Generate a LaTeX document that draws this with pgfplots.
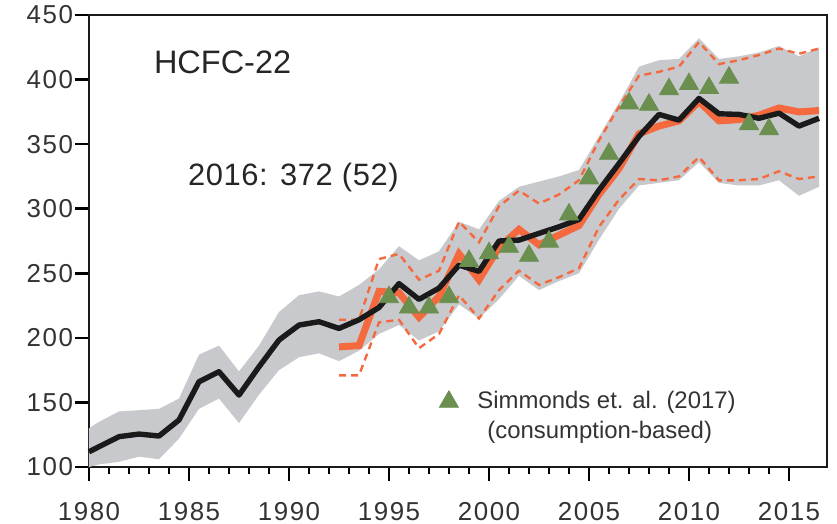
\documentclass[border=0pt]{standalone}
\usepackage{fontspec}
\setmainfont{Liberation Sans}
\newfontfamily\tickfont[LetterSpace=6]{Liberation Sans}
\newfontfamily\notefont[LetterSpace=2]{Liberation Sans}
\usepackage{pgfplots}
\pgfplotsset{compat=1.18}

\definecolor{bandgray}{RGB}{200,201,205}
\definecolor{emorange}{RGB}{245,105,62}
\definecolor{trigreen}{RGB}{106,143,78}
\definecolor{inkblack}{RGB}{26,26,26}

% Global emissions (Gg/yr), plotted at mid-year
\pgfplotstableread{
year  mean
1980   111.8
1980.5 115.7
1981.5 123.5
1982.5 125.5
1983.5 124
1984.5 136.4
1985.5 166
1986.5 173.8
1987.5 155.7
1988.5 177.6
1989.5 198.3
1990.5 209.9
1991.5 212.5
1992.5 207.3
1993.5 214
1994.5 223.5
1995.5 242
1996.5 229.8
1997.5 238.5
1998.5 256.3
1999.5 251.5
2000.5 275
2001.5 275.7
2002.5 280.9
2003.5 286
2004.5 291.7
2005.5 314.4
2006.5 335
2007.5 356
2008.5 373
2009.5 368.6
2010.5 385.4
2011.5 373.5
2012.5 373
2013.5 370
2014.5 374
2015.5 364
2016.5 370
}\globaltab

% Outline of the uncertainty band: upper edge forward, lower edge back
\pgfplotstableread{
year  val
1980   130
1980.5 135
1981.5 143
1982.5 144
1983.5 145
1984.5 153
1985.5 187
1986.5 194
1987.5 174
1988.5 194
1989.5 220
1990.5 233
1991.5 236
1992.5 232
1993.5 241
1994.5 253
1995.5 271
1996.5 260
1997.5 267
1998.5 290
1999.5 284
2000.5 306
2001.5 317
2002.5 321
2003.5 325
2004.5 330
2005.5 356
2006.5 382
2007.5 410
2008.5 415
2009.5 416
2010.5 432
2011.5 416
2012.5 418
2013.5 421
2014.5 426
2015.5 418
2016.5 425
2016.5 317
2015.5 310
2014.5 322
2013.5 318
2012.5 318
2011.5 320
2010.5 336
2009.5 322
2008.5 320
2007.5 318
2006.5 300
2005.5 276
2004.5 250
2003.5 244
2002.5 237
2001.5 248
2000.5 230
1999.5 215
1998.5 226
1997.5 205
1996.5 198
1995.5 210
1994.5 203
1993.5 190
1992.5 182
1991.5 188
1990.5 185
1989.5 175
1988.5 156
1987.5 134
1986.5 153
1985.5 145
1984.5 122
1983.5 106
1982.5 108
1981.5 104
1980.5 102
1980   100
}\bandtab

% Second estimate with its uncertainty range
\pgfplotstableread{
year   est  lo   hi
1992.5 193  171  214
1993.5 194  171  214
1994.5 236  212  261
1995.5 235  214  265
1996.5 216  192  245
1997.5 232  203  252
1998.5 265  233  290
1999.5 245  215  274
2000.5 270  237  302
2001.5 284  252  314
2002.5 272  241  304
2003.5 279.6 247 311
2004.5 287  254  322
2005.5 311  286  353
2006.5 331  307  379
2007.5 358  323  403
2008.5 364  322  406
2009.5 368  325  410
2010.5 383  340  429
2011.5 368  322  412
2012.5 369  322  415
2013.5 372.4 323 419
2014.5 378  329  424
2015.5 375  323  420
2016.5 376  325  424
}\regionaltab

% Simmonds et al. (2017), consumption-based
\pgfplotstableread{
year val
1995 231.5
1996 223.5
1997 223.5
1998 231.5
1999 259.5
2000 265.5
2001 270.5
2002 263.5
2003 274.5
2004 295.5
2005 323.5
2006 342.5
2007 381.5
2008 380.5
2009 392.5
2010 396.5
2011 393.5
2012 401.5
2013 365.5
2014 361.5
}\simtab

\begin{document}
\begin{tikzpicture}
\begin{axis}[
  scale only axis,
  width=369bp, height=226bp,
  xmin=1980, xmax=2016.9,
  ymin=100, ymax=450,
  xtick={1980,1985,...,2015},
  minor x tick num=4,
  ytick={100,150,...,450},
  xtick pos=left, ytick pos=left,
  xtick align=outside, ytick align=outside,
  major tick length=7bp,
  minor tick length=3.5bp,
  axis line style={line width=1.3bp, inkblack},
  every tick/.style={line width=1.3bp, black},
  /pgf/number format/assume math mode=true,
  /pgf/number format/1000 sep={},
  tick label style={font=\tickfont\fontsize{13}{15}\selectfont, text=black!80},
  xticklabel style={yshift=-7bp},
  yticklabel style={xshift=2.5bp},
  clip=false,
  legend style={draw=none, fill=none, at={(axis cs:1997.2,150.5)}, anchor=west,
    font=\fontsize{12}{15.5}\selectfont, text=black!80,
    /tikz/every odd column/.append style={column sep=7.5bp}},
  legend cell align=left,
  legend image code/.code={\draw[#1] plot coordinates {(0bp,0bp)};},
]
  % uncertainty band
  \addplot[fill=bandgray, draw=none, forget plot] table[x=year, y=val] {\bandtab} -- cycle;

  % range of the second estimate
  \addplot[emorange, line width=1.2bp, dash pattern=on 3.5bp off 2.5bp, forget plot]
    table[x=year, y=hi] {\regionaltab};
  \addplot[emorange, line width=1.2bp, dash pattern=on 3.5bp off 2.5bp, forget plot]
    table[x=year, y=lo] {\regionaltab};

  % consumption-based estimate
  \addplot[only marks, mark=triangle*, mark size=5.5bp, trigreen,
    mark options={draw=none, fill=trigreen}]
    table[x=year, y=val] {\simtab};
  \addlegendentry{Simmonds et. al. (2017)}

  \addplot[emorange, line width=3.5bp, forget plot] table[x=year, y=est] {\regionaltab};
  \addplot[inkblack, line width=2.7bp, line join=round, forget plot]
    table[x=year, y=mean] {\globaltab};

  \node[anchor=base west, inner sep=0pt, font=\fontsize{12}{15.5}\selectfont, text=black!80]
    at (axis cs:1999.9,122.2) {(consumption-based)};
  \node[anchor=base west, font=\fontsize{16.3}{18}\selectfont, text=black!85]
    at (axis cs:1982.9,405) {HCFC-22};
  \node[anchor=base west, font=\notefont\fontsize{15.5}{18}\selectfont, text=black!85]
    at (axis cs:1984.6,318.3) {2016: 372 (52)};
\end{axis}
\pgfresetboundingbox
\path[use as bounding box] (-44.5bp,-28.5bp) rectangle (374bp,233.5bp);
\end{tikzpicture}
\end{document}
